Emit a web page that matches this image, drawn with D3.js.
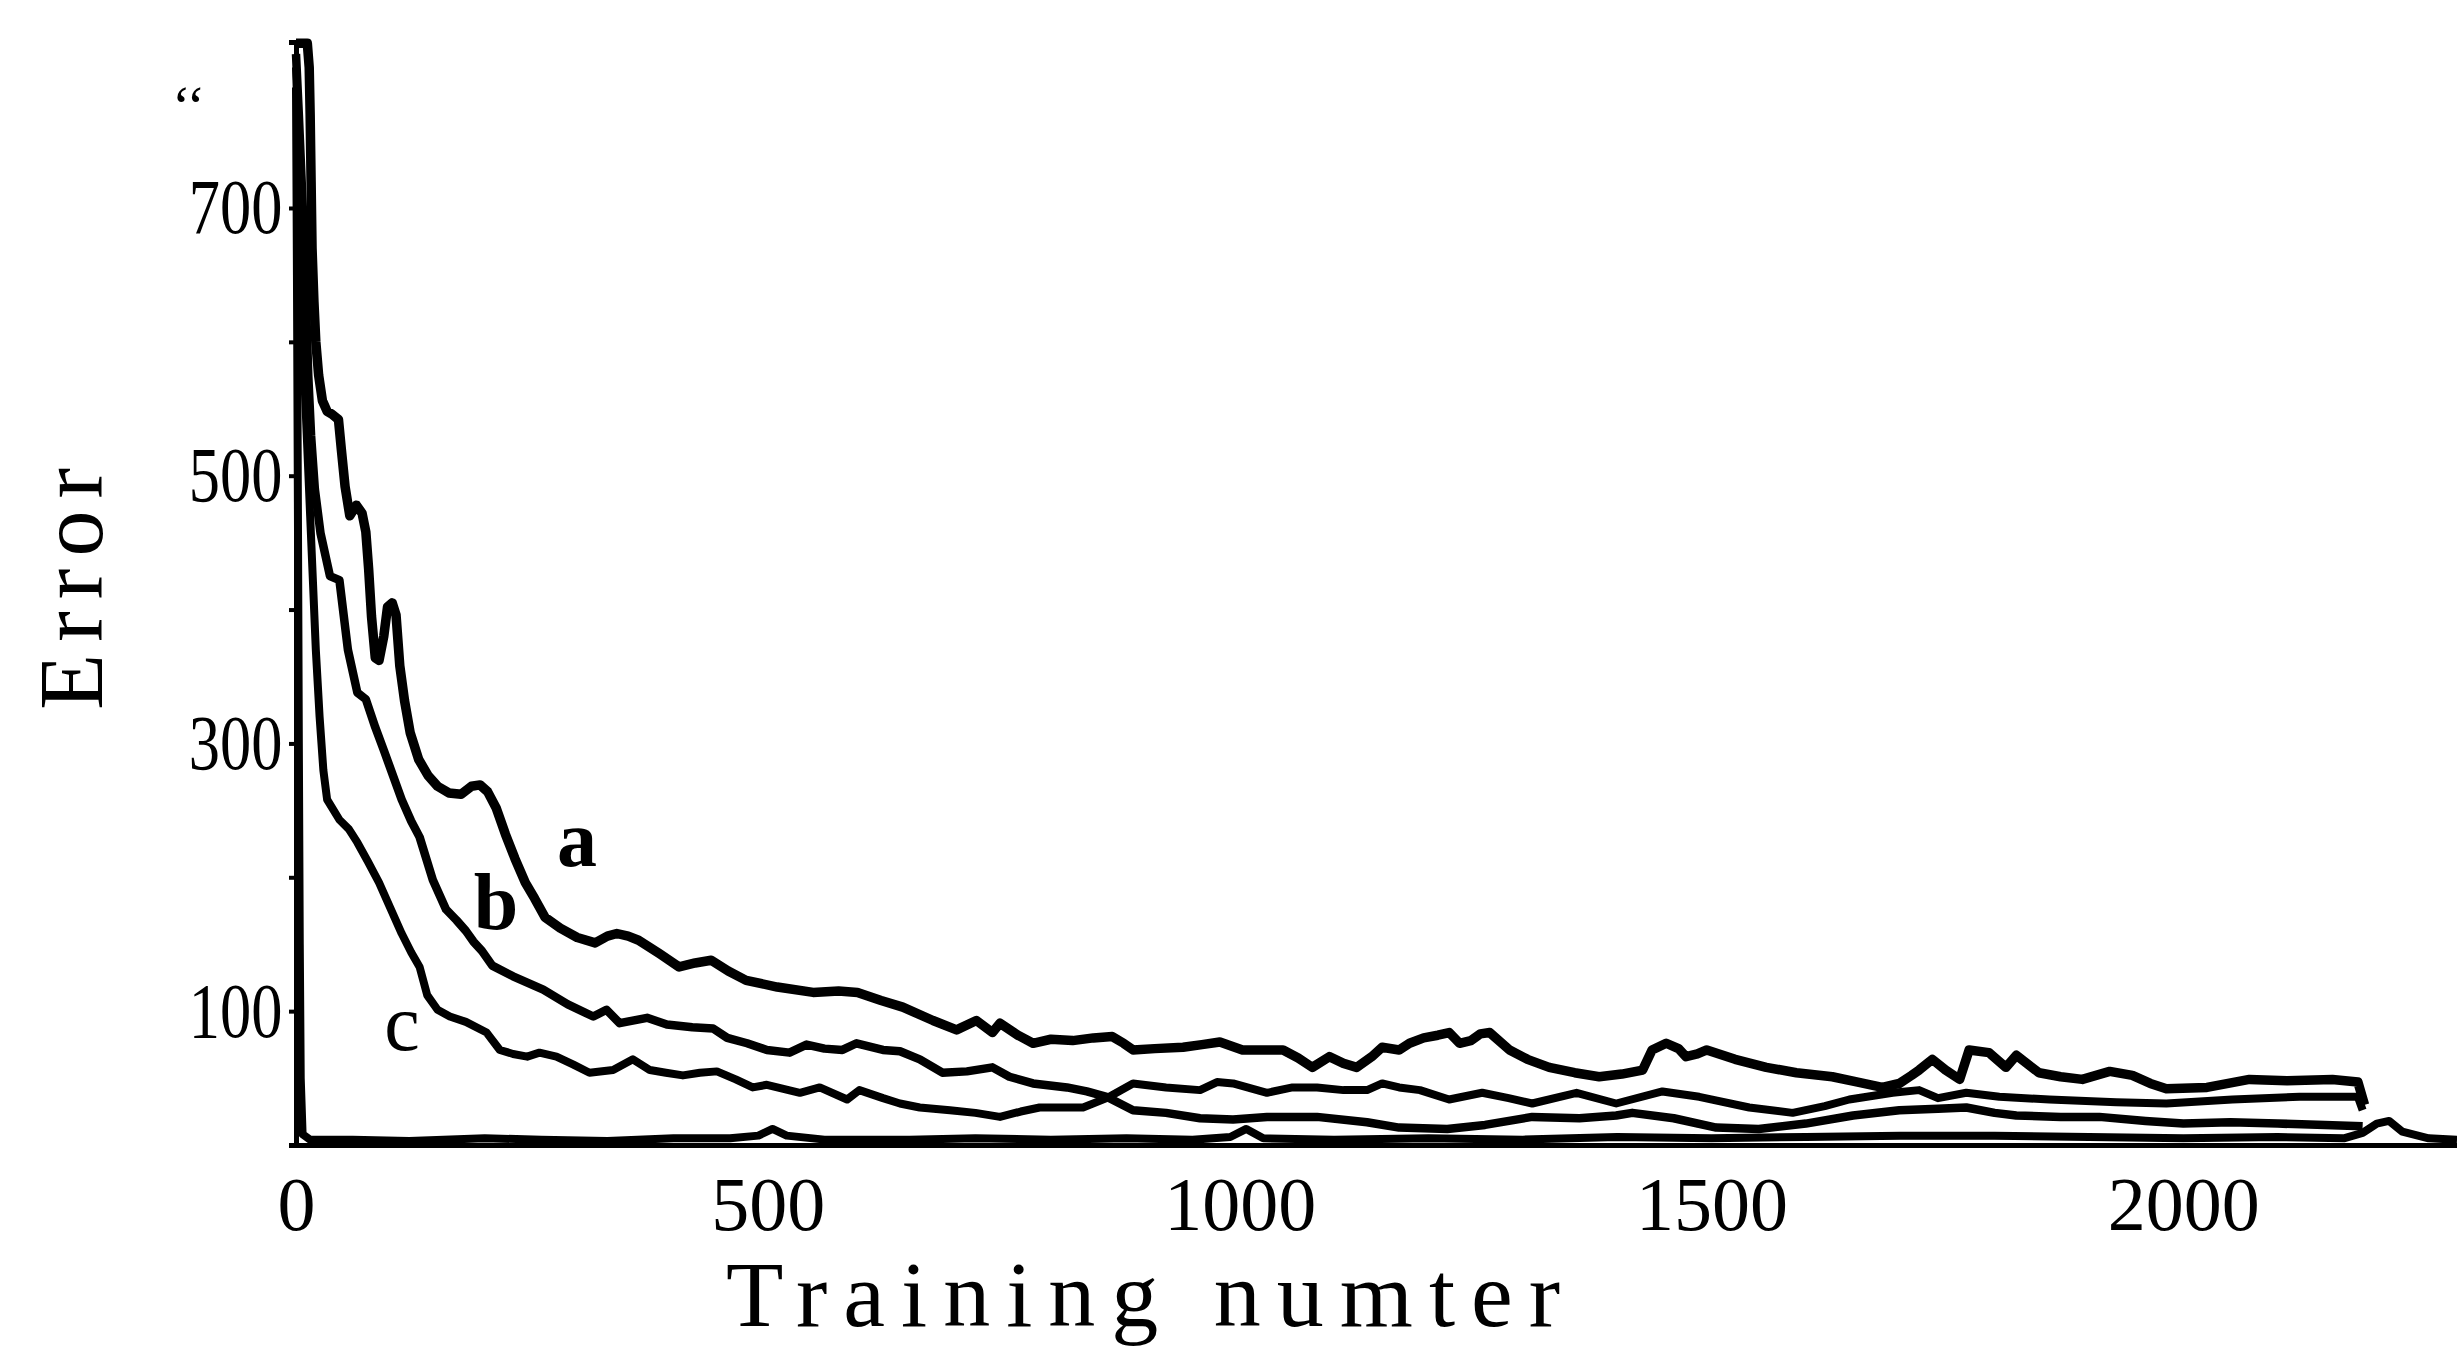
<!DOCTYPE html>
<html>
<head>
<meta charset="utf-8">
<script src="https://cdn.jsdelivr.net/npm/d3@7"></script>
<style>
  body { margin: 0; background: #fff; }
  text { font-family: "Liberation Serif", "DejaVu Serif", serif; fill: #000; }
</style>
</head>
<body>
<div id="chart"></div>
<script>
// Size of the page and where the plot sits inside it
const CHART_WIDTH = 2457;
const CHART_HEIGHT = 1350;
const MARGIN = { left: 296, bottom: 205, top: 42, right: 0 };

// Training number / error pairs
const curveA = [[0,823],[12,823],[14,805],[15,770],[16,720],[17,670],[19,630],[21,600],[24,575],[28,556],[33,548],[38,546],[45,542],[48,520],[52,492],[57,470],[64,478],[70,472],[74,458],[77,430],[80,395],[84,364],[88,362],[93,380],[97,402],[102,405],[106,396],[110,358],[115,332],[121,308],[130,288],[140,276],[150,268],[162,263],[175,262],[186,268],[195,269],[203,264],[212,252],[222,232],[232,214],[243,196],[253,184],[264,170],[280,162],[298,155],[317,151],[330,156],[340,158],[352,156],[363,153],[385,143],[406,133],[423,136],[440,138],[458,130],[477,123],[510,118],[548,114],[575,115],[595,114],[620,108],[643,103],[675,93],[700,86],[721,93],[738,84],[746,91],[765,82],[781,76],[800,79],[823,78],[845,80],[865,81],[877,76],[887,71],[910,72],[940,73],[960,75],[979,77],[1003,71],[1025,71],[1046,71],[1062,65],[1077,58],[1095,66],[1110,61],[1124,58],[1140,66],[1151,73],[1169,71],[1180,76],[1195,80],[1210,82],[1222,84],[1233,76],[1245,78],[1255,83],[1265,84],[1286,71],[1305,64],[1328,58],[1355,54],[1381,51],[1405,53],[1427,56],[1437,71],[1452,76],[1465,72],[1473,66],[1485,68],[1495,71],[1525,64],[1558,58],[1590,54],[1628,51],[1655,47],[1681,43],[1699,46],[1712,52],[1720,56],[1734,64],[1748,56],[1763,49],[1773,71],[1794,69],[1812,58],[1823,67],[1847,54],[1870,51],[1893,49],[1922,55],[1946,52],[1965,46],[1982,42],[2025,43],[2070,49],[2110,48],[2158,49],[2185,47],[2192,30]];

const curveB = [[0,815],[3,770],[6,720],[9,670],[11,620],[13,575],[16,530],[20,490],[26,457],[36,425],[46,422],[55,370],[65,338],[74,333],[84,312],[93,295],[112,258],[122,242],[131,230],[145,198],[159,176],[170,168],[180,160],[188,152],[197,145],[208,134],[230,126],[262,116],[288,105],[315,96],[329,101],[343,91],[372,95],[393,90],[420,88],[442,87],[457,80],[478,76],[499,71],[523,69],[541,75],[560,72],[579,71],[594,76],[622,71],[640,70],[661,64],[685,54],[711,55],[738,58],[756,51],[781,46],[817,43],[838,40],[859,36],[887,26],[922,24],[958,20],[993,19],[1029,21],[1082,21],[1135,17],[1169,13],[1220,12],[1260,15],[1310,21],[1360,20],[1399,22],[1416,24],[1460,20],[1505,13],[1550,12],[1600,16],[1650,22],[1699,26],[1740,27],[1770,28],[1800,24],[1823,22],[1870,21],[1911,21],[1960,18],[2000,16],[2050,17],[2100,16],[2150,15],[2190,14]];

const curveC = [[0,805],[3,740],[5,680],[7,620],[9,570],[12,520],[15,470],[18,420],[21,370],[25,320],[29,280],[33,258],[46,243],[56,236],[65,226],[76,212],[88,196],[100,177],[112,158],[122,144],[131,133],[139,112],[150,101],[163,96],[180,92],[202,84],[216,71],[230,68],[245,66],[258,69],[276,66],[294,60],[311,54],[336,56],[357,64],[375,56],[392,54],[410,52],[428,54],[446,55],[466,49],[484,43],[499,45],[534,39],[555,43],[584,34],[597,41],[622,35],[640,31],[661,28],[693,26],[720,24],[746,21],[768,25],[788,28],[812,28],[834,28],[859,35],[887,46],[922,43],[958,41],[976,47],[993,46],[1029,39],[1056,43],[1082,43],[1110,41],[1135,41],[1151,46],[1169,43],[1191,41],[1222,34],[1257,39],[1285,35],[1310,31],[1357,39],[1399,31],[1448,40],[1487,36],[1540,28],[1586,24],[1620,29],[1646,34],[1692,39],[1720,41],[1740,35],[1770,39],[1805,36],[1858,34],[1929,32],[1982,31],[2052,34],[2123,36],[2185,36],[2190,26]];

// unlabelled curve that falls straight away and runs along the axis
const curveD = [[0,790],[1,650],[2,480],[3,300],[4,150],[5,50],[7,8],[15,4],[60,4],[120,3],[200,5],[260,4],[330,3],[400,5],[460,5],[490,7],[505,12],[520,7],[560,4],[650,4],[720,5],[800,4],[880,5],[950,4],[990,6],[1007,12],[1025,5],[1100,4],[1200,5],[1300,4],[1400,6],[1500,5],[1600,6],[1700,7],[1800,7],[1900,6],[2000,5],[2100,6],[2170,5],[2190,9],[2205,16],[2218,18],[2232,10],[2260,5],[2290,4]];

const xTicks = [0, 500, 1000, 1500, 2000];
const yTicks = [100, 200, 300, 400, 500, 600, 700];
const yTickLabels = [100, 300, 500, 700];

const curveLabels = [
  { name: "a", x: 577, y: 866, weight: "bold" },
  { name: "b", x: 496, y: 929, weight: "bold" },
  { name: "c", x: 402, y: 1050, weight: "normal" }
];

let svg = d3.select("#chart").append("svg")
  .attr("width", CHART_WIDTH)
  .attr("height", CHART_HEIGHT)
  .style("background", "#fff");

// Scales
let xScale = d3.scaleLinear()
  .domain([0, 2290])
  .range([MARGIN.left, CHART_WIDTH - MARGIN.right]);

let yScale = d3.scaleLinear()
  .domain([0, 824])
  .range([CHART_HEIGHT - MARGIN.bottom, MARGIN.top]);

let lineGenerator = d3.line()
  .x(d => xScale(d[0]))
  .y(d => yScale(d[1]));

// Curves, a drawn a little heavier as in the print
[[curveD, 8], [curveC, 8], [curveB, 8.5], [curveA, 9.5]].forEach(([series, w]) => {
  svg.append("path")
    .datum(series)
    .attr("fill", "none")
    .attr("stroke", "#000")
    .attr("stroke-width", w)
    .attr("stroke-linejoin", "round")
    .attr("d", lineGenerator);
});

// Axes
let xAxis = d3.axisBottom(xScale)
  .tickValues(xTicks)
  .tickSize(0)
  .tickPadding(31)
  .tickFormat(d3.format("d"));

let yAxis = d3.axisLeft(yScale)
  .tickValues(yTicks)
  .tickSize(7)
  .tickPadding(10)
  .tickFormat(d => yTickLabels.includes(d) ? d : "");

svg.append("g")
  .attr("transform", `translate(0, ${CHART_HEIGHT - MARGIN.bottom})`)
  .call(xAxis)
  .call(g => g.select(".domain").attr("stroke-width", 5))
  .selectAll("text")
  .style("font-size", "76px")
  .style("font-family", '"Liberation Serif", serif');

svg.append("g")
  .attr("transform", `translate(${MARGIN.left}, 0)`)
  .call(yAxis)
  .call(g => g.select(".domain").attr("stroke-width", 5))
  .call(g => g.selectAll(".tick line").attr("stroke-width", 4))
  .selectAll("text")
  .attr("transform", "scale(0.8, 1)")
  .style("font-size", "78px")
  .style("font-family", '"Liberation Serif", serif');

// Axis labels
svg.append("text")
  .attr("x", 1151)
  .attr("y", 1326)
  .style("text-anchor", "middle")
  .style("font-size", "94px")
  .style("letter-spacing", "16px")
  .text("Training numter");

svg.append("text")
  .attr("transform", "translate(102, 583) rotate(-90)")
  .style("text-anchor", "middle")
  .style("font-size", "92px")
  .style("letter-spacing", "12px")
  .text("Error");

// stray mark above the top label
svg.append("text")
  .attr("x", 172)
  .attr("y", 125)
  .style("font-size", "56px")
  .text("\u2018\u2018");

// Curve names
svg.selectAll("text.curve-name")
  .data(curveLabels)
  .enter()
  .append("text")
  .attr("class", "curve-name")
  .attr("x", d => d.x)
  .attr("y", d => d.y)
  .style("text-anchor", "middle")
  .style("font-size", "80px")
  .style("font-weight", d => d.weight)
  .text(d => d.name);
</script>
</body>
</html>
